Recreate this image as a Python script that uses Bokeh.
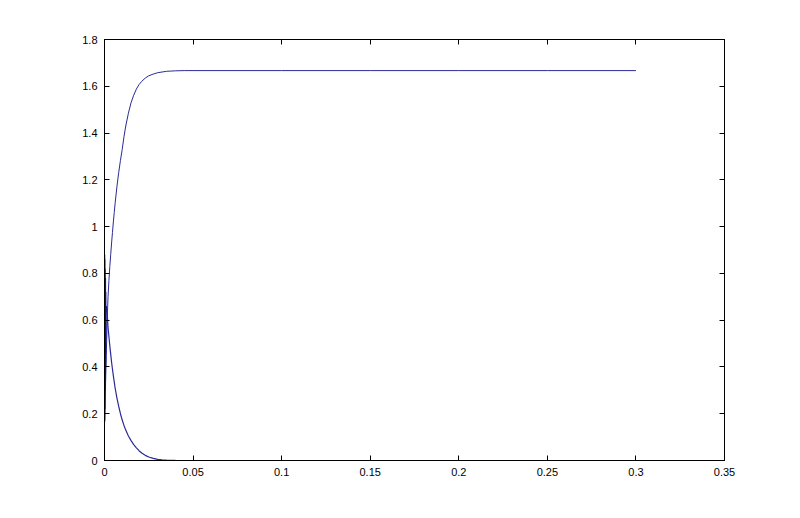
from bokeh.plotting import figure
from bokeh.models import FixedTicker, LinearAxis, Range1d
from bokeh.embed import file_html
from bokeh.resources import INLINE

# Data
x_ticks = [0, 0.05, 0.1, 0.15, 0.2, 0.25, 0.3, 0.35]
x_tick_labels = ["0", "0.05", "0.1", "0.15", "0.2", "0.25", "0.3", "0.35"]
y_ticks = [0, 0.2, 0.4, 0.6, 0.8, 1.0, 1.2, 1.4, 1.6, 1.8]
y_tick_labels = ["0", "0.2", "0.4", "0.6", "0.8", "1", "1.2", "1.4", "1.6", "1.8"]

rise_t = [0.0, 0.0005, 0.001, 0.0015, 0.002, 0.0025, 0.003, 0.0035, 0.004, 0.0045,
          0.005, 0.0055, 0.006, 0.007, 0.008, 0.009, 0.010, 0.011, 0.012, 0.0135,
          0.015, 0.0165, 0.018, 0.0195, 0.021, 0.023, 0.025, 0.0275, 0.030, 0.0325,
          0.035, 0.0375, 0.040, 0.045, 0.05, 0.1, 0.15, 0.2, 0.25, 0.3]
rise_v = [0.15, 0.30, 0.45, 0.60, 0.70, 0.77, 0.83, 0.88, 0.93, 0.975,
          1.02, 1.06, 1.10, 1.17, 1.23, 1.283, 1.33, 1.385, 1.43, 1.485,
          1.53, 1.562, 1.588, 1.607, 1.621, 1.635, 1.645, 1.652, 1.658, 1.661,
          1.664, 1.665, 1.666, 1.667, 1.667, 1.667, 1.667, 1.667, 1.667, 1.667]

decay_t = [0.0008, 0.001, 0.0015, 0.002, 0.0025, 0.003, 0.0035, 0.004, 0.0045, 0.005,
           0.0055, 0.006, 0.007, 0.008, 0.009, 0.010, 0.011, 0.012, 0.0135, 0.015,
           0.0165, 0.018, 0.0195, 0.021, 0.023, 0.025, 0.0275, 0.030, 0.0325, 0.035,
           0.0375, 0.040, 0.05, 0.1, 0.15, 0.2, 0.25, 0.3]
decay_v = [0.64, 0.66, 0.63, 0.57, 0.53, 0.49, 0.455, 0.42, 0.39, 0.362,
           0.336, 0.31, 0.268, 0.232, 0.20, 0.173, 0.15, 0.13, 0.105, 0.085,
           0.068, 0.054, 0.042, 0.032, 0.022, 0.015, 0.009, 0.005, 0.003, 0.0015,
           0.0008, 0.0003, 0.0, 0.0, 0.0, 0.0, 0.0, 0.0]

osc_t = [0.0, 0.00008, 0.00016, 0.00024, 0.00032, 0.0004, 0.00048, 0.00056, 0.00064, 0.00072, 0.0008]
osc_v = [0.88, 0.17, 0.86, 0.22, 0.82, 0.30, 0.78, 0.40, 0.72, 0.52, 0.64]

FONT = "Liberation Sans"

p = figure(width=784, height=502, output_backend="svg", toolbar_location=None,
           x_range=Range1d(0, 0.35), y_range=Range1d(0, 1.8),
           min_border_left=104, min_border_right=60, min_border_top=39, min_border_bottom=42)
p.xgrid.visible = False
p.ygrid.visible = False
p.outline_line_color = "black"
p.outline_line_width = 1
p.background_fill_color = "white"
p.border_fill_color = "white"

def style(ax, ticks, labels, show):
    ax.ticker = FixedTicker(ticks=ticks)
    ax.major_label_overrides = {t: l for t, l in zip(ticks, labels)}
    ax.major_tick_in = 5
    ax.major_tick_out = 0
    ax.minor_tick_in = 0
    ax.minor_tick_out = 0
    ax.axis_line_color = "black"
    ax.major_tick_line_color = "black"
    ax.major_label_text_font = FONT
    ax.major_label_text_font_size = "11px"
    ax.major_label_text_color = "black"
    ax.major_label_standoff = 7
    if not show:
        ax.major_label_text_alpha = 0
        ax.major_label_text_font_size = "1px"
        ax.major_label_standoff = 0

style(p.xaxis[0], x_ticks, x_tick_labels, True)
style(p.yaxis[0], y_ticks, y_tick_labels, True)
top = LinearAxis()
right = LinearAxis()
style(top, x_ticks, x_tick_labels, False)
style(right, y_ticks, y_tick_labels, False)
p.add_layout(top, "above")
p.add_layout(right, "right")

color = "#2a2a96"
p.line(rise_t, rise_v, line_color=color, line_width=1)
p.line(decay_t, decay_v, line_color=color, line_width=1.2)
p.line(osc_t, osc_v, line_color="#0a0a9a", line_width=1.5)

open("out.html", "w").write(file_html(p, INLINE))
